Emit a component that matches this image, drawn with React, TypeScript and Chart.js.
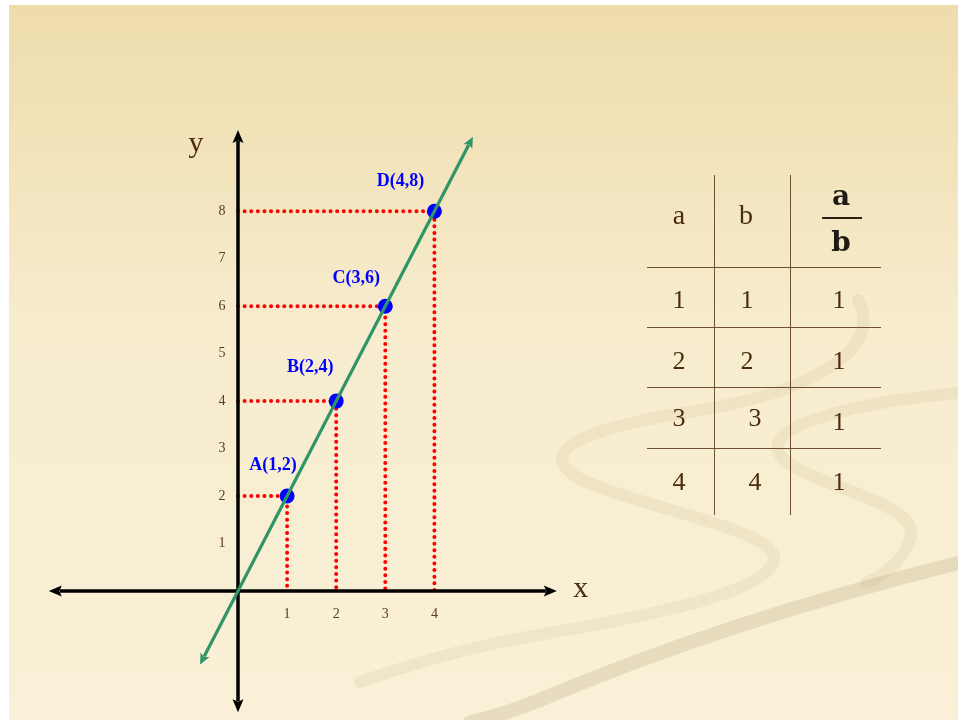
import React, { useEffect, useRef } from "react";
import { Chart, registerables } from "chart.js";

Chart.register(...registerables);

// ---------- data ----------
const pointNames = ["A", "B", "C", "D"];
const pointX = [1, 2, 3, 4];
const pointY = [2, 4, 6, 8];
const xTicks = [1, 2, 3, 4];
const yTicks = [1, 2, 3, 4, 5, 6, 7, 8];
const lineX = [-0.69, 4.7]; // green line y = 2x, end points
const lineY = [-1.38, 9.4];
const xAxisEnds = [-3.63, 6.27];
const yAxisEnds = [-2.32, 9.48];

const tableHeaders = ["a", "b"];
const colA = [1, 2, 3, 4];
const colB = [1, 2, 3, 4];
const colRatio = [1, 1, 1, 1];

// ---------- layout ----------
const W = 958;
const H = 720;
const ORIGIN_X_PX = 238;
const UNIT_X_PX = 49.1;
const ORIGIN_Y_PX = 591;
const UNIT_Y_PX = 47.47;
const labelDX = [-14, -26, -29, -34];
const labelDY = [-31, -34, -28, -30];

const TEXT_BROWN = "#4b2c0e";
const TICK_BROWN = "#5a3a1c";
const SERIF = "'Liberation Serif', 'Times New Roman', serif";

const bgPlugin = {
  id: "slideBg",
  beforeDraw(chart: any) {
    const ctx = chart.ctx as CanvasRenderingContext2D;
    ctx.save();
    ctx.fillStyle = "#ffffff";
    ctx.fillRect(0, 0, W, H);
    const g = ctx.createLinearGradient(0, 5, 0, H);
    g.addColorStop(0, "#eedcad");
    g.addColorStop(0.18, "#f1e2b8");
    g.addColorStop(0.45, "#f7ecce");
    g.addColorStop(1, "#f9f0d7");
    ctx.fillStyle = g;
    ctx.fillRect(9, 5, W - 9, H - 5);

    ctx.lineCap = "round";
    ctx.lineJoin = "round";
    const swirls: [string, number, string][] = [
      ["M 958 393 C 860 402, 760 425, 780 455 C 800 485, 925 500, 910 540 C 903 560, 885 575, 866 583", 12, "rgba(180,160,110,0.13)"],
      ["M 858 300 C 885 350, 810 392, 700 410 C 600 426, 540 445, 570 472 C 605 503, 795 528, 772 565 C 752 600, 610 622, 500 642 C 440 655, 400 668, 360 682", 12, "rgba(180,160,110,0.12)"],
      ["M 958 563 C 850 590, 700 632, 540 700 C 510 712, 490 718, 470 722", 14, "rgba(160,140,95,0.2)"],
    ];
    for (const [d, w, c] of swirls) {
      ctx.strokeStyle = c;
      ctx.lineWidth = w;
      ctx.stroke(new Path2D(d));
    }
    ctx.restore();
  },
};

const arrowPlugin = {
  id: "arrows",
  afterDatasetsDraw(chart: any) {
    const ctx = chart.ctx as CanvasRenderingContext2D;
    chart.data.datasets.forEach((ds: any, i: number) => {
      if (!ds.arrowLen) return;
      const pts = chart.getDatasetMeta(i).data;
      const n = pts.length;
      const draw = (p: any, q: any) => {
        const dx = p.x - q.x;
        const dy = p.y - q.y;
        const len = Math.hypot(dx, dy);
        const ux = dx / len;
        const uy = dy / len;
        const px = -uy;
        const py = ux;
        const L = ds.arrowLen;
        const hw = ds.arrowWidth / 2;
        ctx.beginPath();
        ctx.moveTo(p.x + ux * L, p.y + uy * L);
        ctx.lineTo(p.x - ux * 2 + px * hw, p.y - uy * 2 + py * hw);
        ctx.lineTo(p.x + ux * 0.5, p.y + uy * 0.5);
        ctx.lineTo(p.x - ux * 2 - px * hw, p.y - uy * 2 - py * hw);
        ctx.closePath();
        ctx.fillStyle = ds.borderColor;
        ctx.fill();
      };
      ctx.save();
      draw(pts[0], pts[1]);
      draw(pts[n - 1], pts[n - 2]);
      ctx.restore();
    });
  },
};

const textPlugin = {
  id: "texts",
  afterDraw(chart: any) {
    const ctx = chart.ctx as CanvasRenderingContext2D;
    const xs = chart.scales.x;
    const ys = chart.scales.y;
    const x0 = xs.getPixelForValue(0);
    const y0 = ys.getPixelForValue(0);
    ctx.save();
    ctx.fillStyle = TICK_BROWN;
    ctx.font = `14px ${SERIF}`;
    ctx.textAlign = "center";
    ctx.textBaseline = "middle";
    xTicks.forEach((t) => ctx.fillText(String(t), xs.getPixelForValue(t), y0 + 23));
    yTicks.forEach((t) => ctx.fillText(String(t), x0 - 16, ys.getPixelForValue(t)));

    ctx.fillStyle = TEXT_BROWN;
    ctx.font = `30px ${SERIF}`;
    ctx.textBaseline = "alphabetic";
    ctx.fillText("x", xs.getPixelForValue(xAxisEnds[1]) + 35, y0 + 6);
    ctx.fillText("y", x0 - 42, ys.getPixelForValue(yAxisEnds[1]) + 11);

    ctx.fillStyle = "#0000ff";
    ctx.font = `bold 18px ${SERIF}`;
    ctx.textBaseline = "middle";
    pointNames.forEach((nm, i) => {
      const px = xs.getPixelForValue(pointX[i]);
      const py = ys.getPixelForValue(pointY[i]);
      ctx.fillText(`${nm}(${pointX[i]},${pointY[i]})`, px + labelDX[i], py + labelDY[i]);
    });
    ctx.restore();
  },
};

function Txt(props: { x: number; y: number; size: number; bold?: boolean; font?: string; color?: string; children: any }) {
  return (
    <div
      style={{
        position: "absolute",
        left: props.x,
        top: props.y,
        transform: "translate(-50%, -50%)",
        fontFamily: props.font || SERIF,
        fontSize: props.size,
        fontWeight: props.bold ? "bold" : "normal",
        color: props.color || TEXT_BROWN,
        lineHeight: 1,
        whiteSpace: "nowrap",
      }}
    >
      {props.children}
    </div>
  );
}

const tableColX = [679, 750, 839];
const tableRowY = [300, 361, 418, 482];
const tableVLines = [714, 790];
const tableHLines = [267, 327, 387, 448];
const LINE_COLOR = "#6f5030";

function Table() {
  return (
    <div style={{ position: "absolute", left: 0, top: 0, width: W, height: H, pointerEvents: "none" }}>
      {tableVLines.map((x) => (
        <div key={"v" + x} style={{ position: "absolute", left: x, top: 175, width: 1.3, height: 340, background: LINE_COLOR }} />
      ))}
      {tableHLines.map((y) => (
        <div key={"h" + y} style={{ position: "absolute", left: 647, top: y, width: 234, height: 1.3, background: LINE_COLOR }} />
      ))}
      <Txt x={tableColX[0]} y={215} size={28}>{tableHeaders[0]}</Txt>
      <Txt x={746} y={215} size={28}>{tableHeaders[1]}</Txt>
      <Txt x={841} y={196} size={28} bold font="'DejaVu Serif', serif" color="#1e1a14">a</Txt>
      <div style={{ position: "absolute", left: 822, top: 217, width: 40, height: 1.6, background: "#2a2218" }} />
      <Txt x={841} y={242} size={28} bold font="'DejaVu Serif', serif" color="#1e1a14">b</Txt>
      {colA.map((v, i) => (
        <React.Fragment key={i}>
          <Txt x={tableColX[0]} y={tableRowY[i]} size={26}>{v}</Txt>
          <Txt x={i < 2 ? 747 : 755} y={tableRowY[i]} size={26}>{colB[i]}</Txt>
          <Txt x={tableColX[2]} y={tableRowY[i] + (i === 2 ? 4 : 0)} size={26}>{colRatio[i]}</Txt>
        </React.Fragment>
      ))}
    </div>
  );
}

export default function App() {
  const ref = useRef<HTMLCanvasElement>(null);
  useEffect(() => {
    if (!ref.current) return;
    const guides = pointX.map((x, i) => ({
      label: "guide " + pointNames[i],
      data: [
        { x: 0, y: pointY[i] },
        { x, y: pointY[i] },
        { x, y: 0 },
      ],
      showLine: true,
      borderColor: "#ff0000",
      borderWidth: 4,
      borderDash: [0.01, 6.6],
      borderCapStyle: "round",
      pointRadius: 0,
      order: 3,
    }));
    const chart = new Chart(ref.current, {
      type: "scatter",
      data: {
        datasets: [
          {
            label: "y = 2x",
            data: lineX.map((x, i) => ({ x, y: lineY[i] })),
            showLine: true,
            borderColor: "#2f9566",
            borderWidth: 3.2,
            pointRadius: 0,
            order: 0,
            arrowLen: 9,
            arrowWidth: 10,
          } as any,
          {
            label: "points",
            data: pointX.map((x, i) => ({ x, y: pointY[i] })),
            showLine: false,
            pointRadius: 7.5,
            pointBackgroundColor: "#0000ff",
            pointBorderWidth: 0,
            order: 1,
          },
          {
            label: "x axis",
            data: xAxisEnds.map((x) => ({ x, y: 0 })),
            showLine: true,
            borderColor: "#000000",
            borderWidth: 3.5,
            pointRadius: 0,
            order: 2,
            arrowLen: 11,
            arrowWidth: 11,
          } as any,
          {
            label: "y axis",
            data: yAxisEnds.map((y) => ({ x: 0, y })),
            showLine: true,
            borderColor: "#000000",
            borderWidth: 3.5,
            pointRadius: 0,
            order: 2,
            arrowLen: 11,
            arrowWidth: 11,
          } as any,
          ...(guides as any[]),
        ],
      },
      options: {
        responsive: false,
        devicePixelRatio: 1,
        animation: false,
        layout: { padding: 0, autoPadding: false },
        plugins: { legend: { display: false }, tooltip: { enabled: false } },
        scales: {
          x: {
            type: "linear",
            display: false,
            bounds: "data",
            min: -ORIGIN_X_PX / UNIT_X_PX,
            max: (W - ORIGIN_X_PX) / UNIT_X_PX,
          },
          y: {
            type: "linear",
            display: false,
            bounds: "data",
            min: -(H - ORIGIN_Y_PX) / UNIT_Y_PX,
            max: ORIGIN_Y_PX / UNIT_Y_PX,
          },
        },
      } as any,
      plugins: [bgPlugin, arrowPlugin, textPlugin],
    });
    return () => chart.destroy();
  }, []);

  return (
    <div style={{ position: "fixed", left: 0, top: 0, width: W, height: H, overflow: "hidden" }}>
      <canvas ref={ref} width={W} height={H} style={{ position: "absolute", left: 0, top: 0, width: W, height: H }} />
      <Table />
    </div>
  );
}
